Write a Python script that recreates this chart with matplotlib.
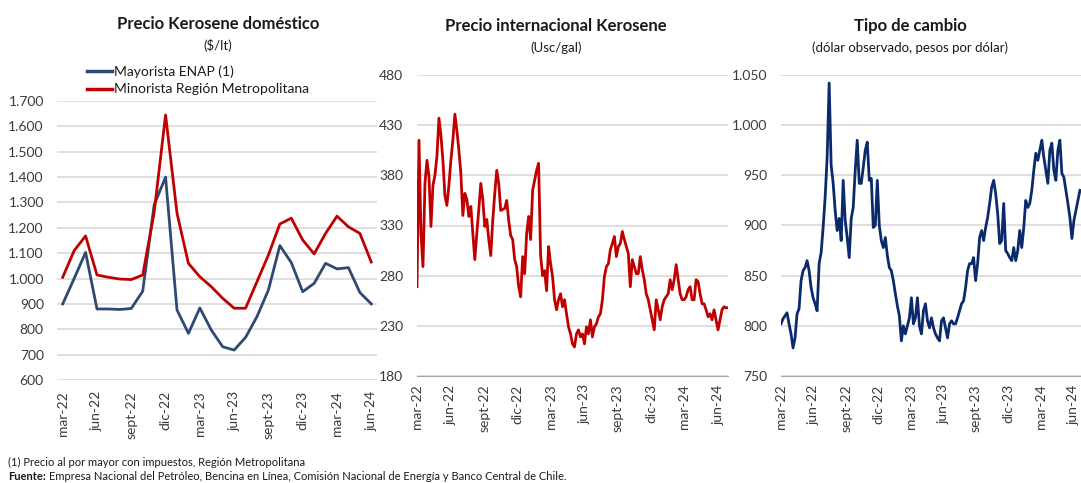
import matplotlib
matplotlib.use('Agg')
import matplotlib.pyplot as plt
import pandas as pd
from matplotlib.ticker import FuncFormatter
from matplotlib.lines import Line2D

plt.rcParams['font.family'] = ['Lato', 'DejaVu Sans']

# ---------------- data ----------------
# Left panel: monthly, mar-22 .. jun-24
months_left = pd.date_range('2022-03-01', '2024-06-01', freq='MS')
mayorista_enap = [900, 1000, 1103, 880, 880, 878, 882, 950, 1290, 1400,
                  876, 784, 884, 797, 731, 718, 768, 850, 955, 1130,
                  1063, 948, 981, 1060, 1038, 1043, 945, 900]
minorista_rm = [1005, 1110, 1168, 1014, 1005, 998, 996, 1014, 1260, 1645,
                1258, 1060, 1007, 968, 922, 883, 883, 988, 1093, 1215,
                1238, 1152, 1097, 1178, 1246, 1204, 1178, 1065]

# Middle panel: international kerosene price (Usc/gal), sampled every ~5.5 days
kerosene_intl = [
    269, 415, 322, 289, 372, 395, 379, 329, 370, 380,
    399, 437, 420, 395, 360, 350, 370, 395, 415, 441,
    425, 405, 382, 340, 362, 356, 339, 349, 322, 296,
    322, 346, 372, 356, 329, 336, 316, 300, 335, 362,
    385, 372, 345, 346, 347, 355, 335, 320, 316, 296,
    289, 269, 259, 299, 282, 322, 339, 316, 365, 375,
    385, 392, 300, 280, 285, 265, 309, 292, 279, 256,
    246, 256, 262, 249, 256, 242, 229, 222, 212, 209,
    222, 226, 219, 222, 212, 229, 222, 236, 219, 229,
    232, 239, 242, 256, 279, 289, 292, 306, 312, 319,
    299, 309, 312, 324, 316, 309, 302, 269, 296, 289,
    282, 282, 299, 286, 276, 262, 256, 246, 236, 226,
    256, 246, 236, 249, 256, 259, 262, 276, 266, 276,
    291, 276, 262, 256, 256, 259, 266, 269, 256, 256,
    276, 274, 262, 252, 252, 246, 239, 242, 236, 246,
    236, 226, 236, 246, 249, 248, 248]
dates_intl = pd.date_range('2022-03-01', '2024-06-28', periods=len(kerosene_intl))

# Right panel: exchange rate (pesos por dólar), sampled every ~5.5 days
tipo_cambio = [
    802, 807, 810, 813, 802, 792, 778, 788, 812, 817,
    845, 855, 858, 865, 855, 838, 828, 822, 815, 862,
    873, 898, 928, 968, 1042, 960, 942, 915, 895, 907,
    885, 945, 905, 888, 868, 907, 918, 955, 985, 942,
    942, 958, 975, 983, 945, 947, 898, 900, 945, 900,
    885, 878, 888, 870, 858, 855, 845, 832, 820, 810,
    785, 800, 792, 800, 808, 828, 802, 808, 828, 800,
    792, 815, 822, 805, 798,
    808, 798, 792, 788, 785, 805, 808, 798, 788, 802,
    805, 802, 802, 808, 815, 822, 825, 838, 855, 862,
    862, 868, 845, 862, 888, 895, 885, 898, 908, 922,
    938, 945, 932, 912, 882, 885, 922, 875, 872, 868,
    865, 878, 865, 875, 895, 878, 898, 925, 918, 922,
    935, 955, 972, 965, 975, 985, 968, 955, 942, 975,
    982, 955, 945, 975, 985, 952, 948, 935, 922, 908,
    887, 905, 915, 925, 935]
dates_tc = pd.date_range('2022-03-01', '2024-06-20', periods=len(tipo_cambio))

tick_labels = ['mar-22', 'jun-22', 'sept-22', 'dic-22', 'mar-23', 'jun-23',
               'sept-23', 'dic-23', 'mar-24', 'jun-24']
tick_dates = pd.date_range('2022-03-01', '2024-06-01', freq='3MS')

# ---------------- styling ----------------
W, H = 1081, 483
fig = plt.figure(figsize=(W / 100, H / 100), dpi=100)

def add_axes(x0, x1, ytop, ybot):
    return fig.add_axes([x0 / W, 1 - ybot / H, (x1 - x0) / W, (ybot - ytop) / H])

GRID = '#d9d9d9'
TXT = '#3a3a3a'
BLUE_L = '#2E4A72'
RED = '#C00000'
NAVY = '#0B2A6B'
TICKFS = 10

def style(ax, ypad, xpad):
    ax.yaxis.grid(True, color=GRID, lw=1.2)
    ax.set_axisbelow(True)
    for s in ['top', 'right', 'left']:
        ax.spines[s].set_visible(False)
    ax.tick_params(axis='both', length=0, labelsize=TICKFS, colors=TXT)
    ax.tick_params(axis='y', pad=ypad)
    ax.tick_params(axis='x', pad=xpad)

thousands = FuncFormatter(lambda v, p: f"{int(round(v)):,}".replace(',', '.'))

# Left panel
ax1 = add_axes(57, 377, 101, 380)
idx = list(range(len(months_left)))
ax1.plot(idx, mayorista_enap, color=BLUE_L, lw=2.0)
ax1.plot(idx, minorista_rm, color=RED, lw=2.0)
ax1.set_xlim(-0.5, len(months_left) - 0.5)
ax1.set_ylim(600, 1700)
ax1.set_yticks(range(600, 1701, 100))
ax1.yaxis.set_major_formatter(thousands)
ax1.set_xticks(idx[::3])
ax1.set_xticklabels(tick_labels, rotation=90, va='top', ha='center')
style(ax1, 9.5, 8)
ax1.spines['bottom'].set_visible(False)

# Middle panel
ax2 = add_axes(417, 728, 75, 376)
ax2.plot(dates_intl, kerosene_intl, color=RED, lw=2.0)
ax2.set_xlim(pd.Timestamp('2022-03-01'), pd.Timestamp('2024-06-28'))
ax2.set_ylim(180, 480)
ax2.set_yticks(range(180, 481, 50))
ax2.set_xticks(tick_dates)
ax2.set_xticklabels(tick_labels, rotation=90, va='top', ha='center')
style(ax2, 10, 6)
ax2.spines['bottom'].set_color('#a6a6a6')

# Right panel
ax3 = add_axes(781, 1081, 75, 376)
ax3.plot(dates_tc, tipo_cambio, color=NAVY, lw=2.0)
ax3.set_xlim(pd.Timestamp('2022-03-01'), pd.Timestamp('2024-06-23'))
ax3.set_ylim(750, 1050)
ax3.set_yticks(range(750, 1051, 50))
ax3.yaxis.set_major_formatter(thousands)
ax3.set_xticks(tick_dates)
ax3.set_xticklabels(tick_labels, rotation=90, va='top', ha='center')
style(ax3, 10, 6)
ax3.spines['bottom'].set_color('#a6a6a6')

# Titles
def title(xc, y, s, **kw):
    fig.text(xc / W, 1 - y / H, s, ha='center', va='center', color='#1a1a1a', **kw)

title(218, 24, 'Precio Kerosene doméstico', fontsize=12, fontweight='bold')
title(218, 46, '($/lt)', fontsize=9.5)
title(556, 26, 'Precio internacional Kerosene', fontsize=12, fontweight='bold')
title(556, 48, '(Usc/gal)', fontsize=9.5)
title(910, 26, 'Tipo de cambio', fontsize=12, fontweight='bold')
title(910, 48, '(dólar observado, pesos por dólar)', fontsize=9.5)

# Legend
handles = [Line2D([], [], color=BLUE_L, lw=2.5), Line2D([], [], color=RED, lw=2.5)]
fig.legend(handles, ['Mayorista ENAP (1)', 'Minorista Región Metropolitana'],
           loc='upper left', bbox_to_anchor=(87 / W, 1 - 65 / H), frameon=False,
           fontsize=10, handlelength=1.8, handletextpad=0.15, labelspacing=0.42,
           borderpad=0, borderaxespad=0, labelcolor='#1a1a1a')

# Footnotes
FN = 8
fig.text(8 / W, 1 - 462 / H, '(1) Precio al por mayor con impuestos, Región Metropolitana',
         fontsize=FN, va='center', ha='left', color='#1a1a1a')
t = fig.text(8 / W, 1 - 477 / H, 'Fuente:', fontsize=FN, fontweight='bold',
             va='center', ha='left', color='#1a1a1a')
fig.canvas.draw()
bb = t.get_window_extent()
fig.text(bb.x1 / W + 3 / W, 1 - 477 / H,
         'Empresa Nacional del Petróleo, Bencina en Línea, Comisión Nacional de Energía y Banco Central de Chile.',
         fontsize=FN, va='center', ha='left', color='#1a1a1a')

fig.savefig('out.png', dpi=100)
